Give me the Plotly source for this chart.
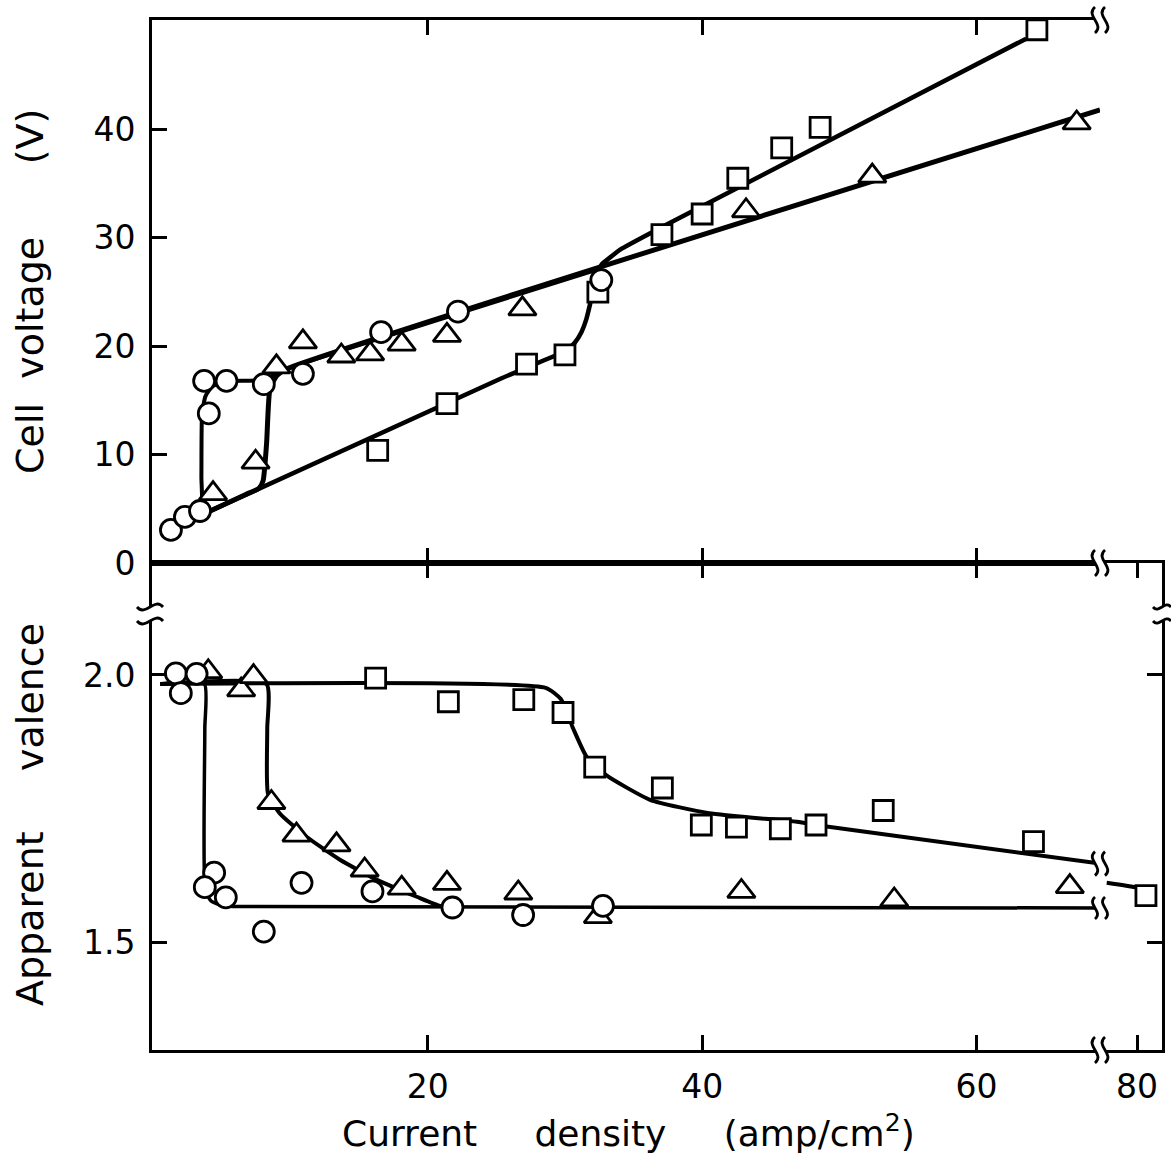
import plotly.graph_objects as go

# ---------------- data ----------------
# Top panel: cell voltage (V) vs current density (amp/cm2)
circ_top_x = [1.28, 2.3, 3.4, 4.04, 3.7, 5.33, 8.05, 10.9, 16.6, 22.2, 32.65]
circ_top_y = [3.05, 4.25, 4.8, 13.8, 16.8, 16.8, 16.5, 17.45, 21.3, 23.2, 26.1]
tri_top_x = [4.35, 7.45, 8.97, 10.9, 13.7, 15.8, 18.1, 21.4, 26.9, 43.2, 52.4, 67.3]
tri_top_y = [6.4, 9.3, 18.1, 20.4, 19.1, 19.3, 20.2, 21.0, 23.45, 32.5, 35.7, 40.6]
sq_top_x = [16.35, 21.4, 27.2, 30.0, 32.4, 37.07, 40.0, 42.6, 45.8, 48.6, 64.4]
sq_top_y = [10.4, 14.7, 18.35, 19.2, 25.0, 30.3, 32.2, 35.5, 38.3, 40.2, 49.2]

# hand-drawn curves, top panel
circ_top_curve_x = [1.2, 3.45, 3.5, 3.55, 3.8, 4.3, 5.3, 8.0, 9.7, 32.7]
circ_top_curve_y = [3.1, 4.4, 8.0, 13.8, 15.4, 16.3, 16.75, 16.9, 17.9, 27.2]
tri_top_curve_x = [3.45, 6.7, 7.7, 8.0, 8.25, 8.5, 9.0, 9.7, 69.0]
tri_top_curve_y = [4.4, 6.3, 6.9, 7.6, 11.0, 16.1, 17.3, 17.9, 41.8]
sq_top_curve_x = [1.2, 25.3, 29.6, 30.2, 30.7, 31.2, 31.56, 31.93, 32.3, 32.65,
                  33.3, 34.0, 37.07, 63.62]
sq_top_curve_y = [3.1, 17.0, 19.3, 19.7, 20.3, 21.3, 22.5, 24.4, 26.2, 27.5,
                  28.2, 28.9, 31.0, 48.38]

# Bottom panel: apparent valence vs current density
circ_bot_x = [1.64, 2.0, 3.15, 4.43, 3.75, 5.28, 8.05, 10.8, 15.97, 21.8, 26.95, 32.77]
circ_bot_y = [2.003, 1.966, 2.002, 1.631, 1.604, 1.585, 1.521, 1.612, 1.596, 1.566, 1.552, 1.569]
tri_bot_x = [4.0, 6.4, 7.3, 8.6, 10.43, 13.35, 15.4, 18.1, 21.4, 26.6, 32.4, 42.86, 54.0, 66.8]
tri_bot_y = [2.006, 1.972, 1.997, 1.762, 1.701, 1.683, 1.636, 1.602, 1.611, 1.593, 1.549, 1.596, 1.580, 1.605]
sq_bot_x = [16.2, 21.5, 27.0, 29.86, 32.17, 37.1, 39.94, 42.5, 45.7, 48.3, 53.2, 64.15]
sq_bot_y = [1.994, 1.950, 1.954, 1.930, 1.828, 1.789, 1.720, 1.716, 1.713, 1.720, 1.747, 1.689]
sq_bot_far_x = [80.65]
sq_bot_far_y = [1.588]

# hand-drawn curves, bottom panel
sq_bot_curve_x = [0.5, 28.6, 29.7, 30.6, 31.56, 33.0, 36.2, 40.5, 46.9, 48.8, 69.0]
sq_bot_curve_y = [1.983, 1.976, 1.955, 1.90, 1.848, 1.813, 1.767, 1.742, 1.726, 1.718, 1.648]
sq_bot_far_curve_x = [77.79, 79.97, 80.4]
sq_bot_far_curve_y = [1.612, 1.603, 1.598]
circ_bot_curve_x = [0.5, 3.72, 3.75, 3.78, 4.2, 5.0, 5.8, 69.0]
circ_bot_curve_y = [1.983, 1.983, 1.9, 1.60, 1.578, 1.570, 1.568, 1.565]
tri_bot_curve_x = [0.5, 8.25, 8.3, 8.35, 9.2, 11.16, 13.6, 16.26, 19.2, 20.9, 22.5]
tri_bot_curve_y = [1.983, 1.983, 1.9, 1.779, 1.742, 1.698, 1.655, 1.618, 1.586, 1.569, 1.567]

x_ticks_main = [20, 40, 60]
x_ticks_far = [80]
v_ticks = [0, 10, 20, 30, 40]
val_ticks = [1.5, 2.0]
val_ticktext = ["1.5", "2.0"]

# ---------------- figure ----------------
W, H = 1171, 1159
ML, MR, MT, MB = 152, 9, 20, 109
PW, PH = W - ML - MR, H - MT - MB
BOTTOM_PX = H - MB
split = (1100 - ML) / PW
ymid = (BOTTOM_PX - 563) / PH

x_main_range = [-0.1, 69.0]
x_far_range = [77.3, 81.82]
v_range = [0, 50.1]
val_range = [1.30, 2.209]

FONT = "DejaVu Sans"
BLACK = "black"

fig = go.Figure()


def curve(x, y, xa, ya, width=4):
    fig.add_trace(go.Scatter(x=x, y=y, xaxis=xa, yaxis=ya, mode="lines",
                             line=dict(color=BLACK, width=width, shape="spline", smoothing=0.5),
                             hoverinfo="skip", showlegend=False))


def marks(x, y, xa, ya, symbol, size):
    fig.add_trace(go.Scatter(x=x, y=y, xaxis=xa, yaxis=ya, mode="markers",
                             marker=dict(symbol=symbol, size=size, color="white",
                                         line=dict(color=BLACK, width=2.8)),
                             showlegend=False))


# top panel curves
curve(sq_top_curve_x, sq_top_curve_y, "x3", "y", 4.5)
curve(tri_top_curve_x, tri_top_curve_y, "x3", "y", 5)
curve(circ_top_curve_x, circ_top_curve_y, "x3", "y", 4)
# bottom panel curves
curve(sq_bot_curve_x, sq_bot_curve_y, "x", "y2", 4)
curve(circ_bot_curve_x, circ_bot_curve_y, "x", "y2", 3.5)
curve(tri_bot_curve_x, tri_bot_curve_y, "x", "y2", 4)
curve(sq_bot_far_curve_x, sq_bot_far_curve_y, "x2", "y4", 4)

# markers
marks(sq_top_x, sq_top_y, "x3", "y", "square", 20)
marks(tri_top_x, tri_top_y, "x3", "y", "triangle-up", 24)
marks(circ_top_x, circ_top_y, "x3", "y", "circle", 21)
marks(sq_bot_x, sq_bot_y, "x", "y2", "square", 20)
marks(tri_bot_x, tri_bot_y, "x", "y2", "triangle-up", 24)
marks(circ_bot_x, circ_bot_y, "x", "y2", "circle", 21)
marks(sq_bot_far_x, sq_bot_far_y, "x2", "y4", "square", 20)

tickfont = dict(family=FONT, size=33, color=BLACK)
common = dict(showline=True, linewidth=3, linecolor=BLACK, ticks="inside", ticklen=15,
              tickwidth=2.5, tickcolor=BLACK, showgrid=False, zeroline=False,
              tickfont=tickfont, fixedrange=True)

fig.update_layout(
    width=W, height=H,
    margin=dict(l=ML, r=MR, t=MT, b=MB, pad=0),
    paper_bgcolor="white", plot_bgcolor="white",
    xaxis=dict(domain=[0, split], range=x_main_range, anchor="y2", tickvals=x_ticks_main,
               mirror="ticks", ticklabelstandoff=5, **common),
    xaxis2=dict(domain=[split, 1], range=x_far_range, anchor="y4", tickvals=x_ticks_far,
                mirror="ticks", ticklabelstandoff=5, **common),
    xaxis3=dict(domain=[0, split], range=x_main_range, anchor="y", tickvals=x_ticks_main,
                mirror="ticks", showticklabels=False, **common),
    xaxis4=dict(domain=[split, 1], range=x_far_range, anchor="y3", tickvals=x_ticks_far,
                mirror="ticks", showticklabels=False, **common),
    yaxis=dict(domain=[ymid, 1], range=v_range, anchor="x3", tickvals=v_ticks,
               ticklabelstandoff=7, **common),
    yaxis3=dict(domain=[ymid, 1], range=v_range, anchor="x4", side="right",
                tickvals=v_ticks[1:], showticklabels=False, **common),
    yaxis2=dict(domain=[0, ymid], range=val_range, anchor="x", tickvals=val_ticks,
                ticktext=val_ticktext, ticklabelstandoff=7, **common),
    yaxis4=dict(domain=[0, ymid], range=val_range, anchor="x2", side="right",
                tickvals=val_ticks, showticklabels=False, **common),
)

NB = "\u00a0"
titlefont = dict(family=FONT, size=38, color=BLACK)
annos = [
    dict(text="Cell" + NB * 2 + "voltage" + NB * 6 + "(V)", xref="paper", yref="paper",
         x=(30 - ML) / PW, y=(BOTTOM_PX - 292) / PH, textangle=-90,
         showarrow=False, font=titlefont, xanchor="center", yanchor="middle"),
    dict(text="Apparent" + NB * 5 + "valence", xref="paper", yref="paper",
         x=(30 - ML) / PW, y=(BOTTOM_PX - 815) / PH, textangle=-90,
         showarrow=False, font=titlefont, xanchor="center", yanchor="middle"),
    dict(text="Current" + NB * 5 + "density" + NB * 5 + "(amp/cm<sup>2</sup>)",
         xref="paper", yref="paper",
         x=(628 - ML) / PW, y=(BOTTOM_PX - 1131) / PH,
         showarrow=False, font=dict(family=FONT, size=36, color=BLACK),
         xanchor="center", yanchor="middle"),
]
fig.update_layout(annotations=annos)


# ---------------- axis-break symbols (decorations, in pixel offsets) ----------------
def px2paper(px, py):
    return (px - ML) / PW, (BOTTOM_PX - py) / PH


def s_path(cx, cy, h, horizontal=False):
    if not horizontal:
        rel = [(0, -h / 2), (-0.4 * h, -h / 6), (0.4 * h, h / 6), (0, h / 2)]
    else:
        rel = [(-h / 2, 0), (-h / 6, 0.4 * h), (h / 6, -0.4 * h), (h / 2, 0)]
    pts = [px2paper(cx + dx, cy + dy) for dx, dy in rel]
    return "M {},{} C {},{} {},{} {},{}".format(*[c for p in pts for c in p])


shapes = []


def brk(cx, cy, h=26, gap=5, horizontal=False, cover=5):
    if not horizontal:
        x0, y0 = px2paper(cx - gap, cy - cover)
        x1, y1 = px2paper(cx + gap, cy + cover)
        centers = [(cx - gap, cy), (cx + gap, cy)]
    else:
        x0, y0 = px2paper(cx - cover, cy - gap)
        x1, y1 = px2paper(cx + cover, cy + gap)
        centers = [(cx, cy - gap), (cx, cy + gap)]
    shapes.append(dict(type="rect", xref="paper", yref="paper", x0=x0, y0=y0, x1=x1, y1=y1,
                       fillcolor="white", line=dict(width=0), layer="above"))
    for (ccx, ccy) in centers:
        shapes.append(dict(type="path", xref="paper", yref="paper",
                           path=s_path(ccx, ccy, h, horizontal),
                           line=dict(color=BLACK, width=2.8), layer="above"))


def val_to_py(v):
    return BOTTOM_PX - (v - val_range[0]) / (val_range[1] - val_range[0]) * (ymid * PH)


split_px = 1100
brk(split_px, MT, 26)
brk(split_px, 563, 26)
brk(split_px, BOTTOM_PX, 26)
brk(split_px, val_to_py(sq_bot_curve_y[-1]), 24, cover=7)
brk(split_px, val_to_py(circ_bot_curve_y[-1]), 22, cover=7)
brk(ML - 2, 614, 26, gap=7, horizontal=True)
brk(W - MR, 614, 18, gap=7, horizontal=True)

fig.update_layout(shapes=shapes)

fig.write_html("out.html")
